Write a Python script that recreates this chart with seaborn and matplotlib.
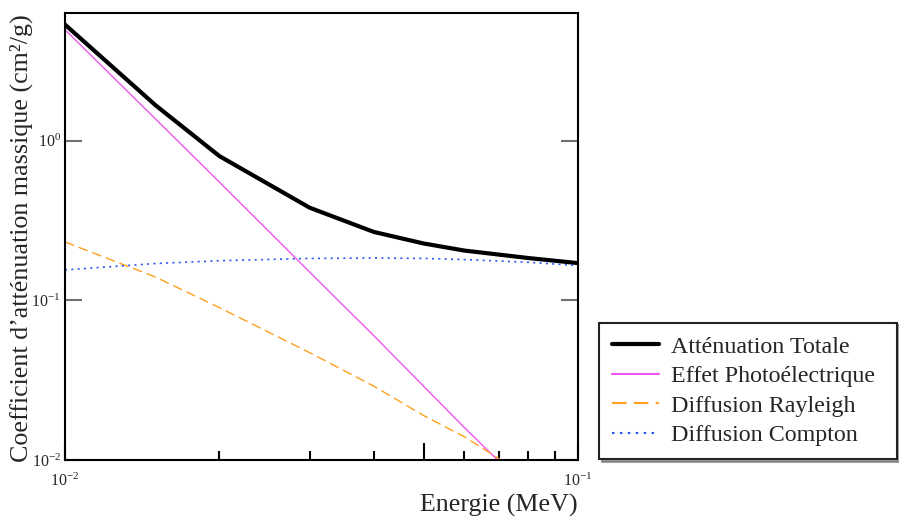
import numpy as np
import pandas as pd
import matplotlib
matplotlib.use("Agg")
import matplotlib.pyplot as plt
import seaborn as sns
from matplotlib.ticker import FixedLocator, FixedFormatter, NullFormatter, NullLocator

# ---- data ----
energy = [0.01, 0.015, 0.02, 0.03, 0.04, 0.05, 0.06, 0.08, 0.1]
total = [5.33, 1.67, 0.80, 0.38, 0.268, 0.227, 0.205, 0.184, 0.171]
photo = [4.95, 1.37, 0.55, 0.150, 0.060, 0.029, 0.016, 0.0065, 0.0031]
rayleigh = [0.232, 0.140, 0.090, 0.047, 0.029, 0.019, 0.014, 0.0078, 0.0052]
compton = [0.155, 0.170, 0.177, 0.183, 0.184, 0.183, 0.180, 0.173, 0.165]

series_names = ["Atténuation Totale", "Effet Photoélectrique",
                "Diffusion Rayleigh", "Diffusion Compton"]
x_tick_vals = [0.01, 0.05, 0.1]
x_tick_labels = [r"$\mathdefault{10^{-2}}$", "", r"$\mathdefault{10^{-1}}$"]
x_minor_vals = [0.02, 0.03, 0.04, 0.06, 0.07, 0.08, 0.09]
y_tick_vals = [0.01, 0.1, 1.0]
y_tick_labels = [r"$\mathdefault{10^{-2}}$", r"$\mathdefault{10^{-1}}$", r"$\mathdefault{10^{0}}$"]

sns.set_style("ticks")
plt.rcParams["font.family"] = ["Liberation Serif", "DejaVu Serif"]
plt.rcParams["mathtext.fontset"] = "custom"
plt.rcParams["mathtext.rm"] = "Liberation Serif"

fig = plt.figure(figsize=(8.99, 5.18), dpi=100)
ax = fig.add_axes([65 / 899, 1 - 460 / 518, (578 - 65) / 899, (460 - 13) / 518])

styles = {
    series_names[0]: dict(color="black", lw=3.0, ls="-"),
    series_names[1]: dict(color="#ee55ee", lw=1.0, ls="-"),
    series_names[2]: dict(color="#ffa020", lw=1.0, ls=(0, (7, 3.5))),
    series_names[3]: dict(color="#2a55f0", lw=1.2, ls=(0, (1.2, 2.6))),
}
values = [total, photo, rayleigh, compton]
for name, vals in zip(series_names, values):
    df = pd.DataFrame({"Energie": energy, "mu": vals})
    st = styles[name]
    sns.lineplot(data=df, x="Energie", y="mu", ax=ax, color=st["color"],
                 linewidth=st["lw"], linestyle=st["ls"], label=name, legend=False)

ax.set_xscale("log")
ax.set_yscale("log")
ax.set_xlim(0.01, 0.1)
ax.set_ylim(0.01, 6.3)

ax.xaxis.set_major_locator(FixedLocator(x_tick_vals))
ax.xaxis.set_major_formatter(FixedFormatter(x_tick_labels))
ax.xaxis.set_minor_locator(FixedLocator(x_minor_vals))
ax.xaxis.set_minor_formatter(NullFormatter())
ax.yaxis.set_major_locator(FixedLocator(y_tick_vals))
ax.yaxis.set_major_formatter(FixedFormatter(y_tick_labels))
ax.yaxis.set_minor_locator(NullLocator())

ax.tick_params(axis="x", which="major", direction="in", length=12.5, width=1.5,
               color="black", pad=9, labelsize=11.5, top=False)
ax.tick_params(axis="x", which="minor", direction="in", length=6.5, width=1.5,
               color="black", top=False)
ax.tick_params(axis="y", which="major", direction="in", length=12, width=1.5,
               color="#707070", pad=3, labelsize=11.5, left=True, right=True)

for sp in ax.spines.values():
    sp.set_linewidth(1.5)
    sp.set_color("black")

ax.set_xlabel("Energie (MeV)", fontsize=18.7, loc="right", labelpad=3)
ax.set_ylabel("Coefficient d’atténuation massique (cm²/g)", fontsize=18.7)
ax.yaxis.set_label_coords(-0.0625, 0.497)

handles, labels = ax.get_legend_handles_labels()
leg = fig.legend(handles, labels, loc="center", mode="expand",
                 bbox_to_anchor=(599 / 899, 1 - 460 / 518, 298 / 899, 138 / 518),
                 bbox_transform=fig.transFigure, fontsize=17.3, frameon=True,
                 fancybox=False, shadow=True, handlelength=1.95, handletextpad=0.5,
                 labelspacing=0.32, borderpad=0.55, borderaxespad=0)
leg.get_frame().set_edgecolor("#222222")
leg.get_frame().set_linewidth(1.5)
for lh in leg.get_lines():
    lh.set_linewidth(max(lh.get_linewidth(), 1.5))

fig.savefig("out.png", dpi=100)
